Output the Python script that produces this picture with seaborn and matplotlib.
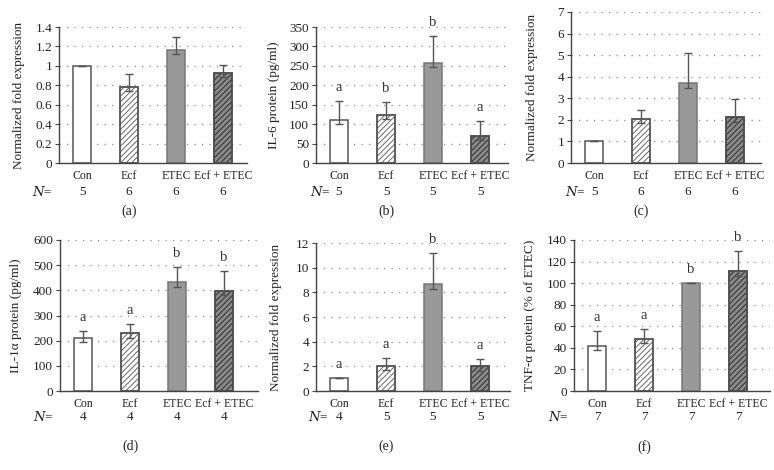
import matplotlib
matplotlib.use("Agg")
import matplotlib.pyplot as plt
import matplotlib.ticker as mticker
from matplotlib.patches import Rectangle
import seaborn as sns

sns.set_style("white")
plt.rcParams['font.family'] = ['Liberation Serif', 'DejaVu Serif']
plt.rcParams['hatch.linewidth'] = 0.7

groups = ['Con', 'Ecf', 'ETEC', 'Ecf + ETEC']

# (a)
a_mean = [1.0, 0.78, 1.16, 0.93]
a_err = [0, 0.14, 0.14, 0.08]
a_n = [5, 6, 6, 6]
# (b)
b_mean = [110, 124, 257, 70]
b_err = [50, 34, 70, 38]
b_n = [5, 5, 5, 5]
b_sig = ['a', 'b', 'b', 'a']
# (c)
c_mean = [1.0, 2.05, 3.7, 2.13]
c_err = [0, 0.42, 1.4, 0.82]
c_n = [5, 6, 6, 6]
# (d)
d_mean = [212, 230, 432, 398]
d_err = [28, 38, 60, 78]
d_n = [4, 4, 4, 4]
d_sig = ['a', 'a', 'b', 'b']
# (e)
e_mean = [1.05, 2.05, 8.65, 2.0]
e_err = [0, 0.65, 2.55, 0.6]
e_n = [4, 5, 5, 5]
e_sig = ['a', 'a', 'b', 'a']
# (f)
f_mean = [42, 48.5, 100, 111]
f_err = [14, 9, 0, 19]
f_n = [7, 7, 7, 7]
f_sig = ['a', 'a', 'b', 'b']

W, H = 774, 470

# bar styles: face, hatch, hatch colour
styles = [('white', '', '#555555'),
          ('white', '//////', '#666666'),
          ('#999999', '', '#777777'),
          ('#8a8a8a', '//////', '#2e2e2e')]
edge = '#555555'


def panel(rect, mean, err, n, ymax, ystep, ylabel, tag, sig=None,
          label_x=None, nlabel_x=None, offs=(8, 21, 36)):
    left, top, right, bottom = rect
    ax = fig.add_axes([left / W, 1 - bottom / H, (right - left) / W, (bottom - top) / H])
    sns.barplot(x=groups, y=mean, ax=ax, width=0.38, color='white',
                edgecolor=edge, linewidth=1.1, zorder=2)
    for p, (fc, hatch, hc) in zip(ax.patches, styles):
        p.set_facecolor(fc)
        if hatch:
            p.set_hatch(hatch)
            p.set_edgecolor(hc)
            ax.add_patch(Rectangle(p.get_xy(), p.get_width(), p.get_height(),
                                   fill=False, edgecolor=edge, linewidth=1.1, zorder=3))
        elif fc != 'white':
            p.set_edgecolor(hc)
    # upper error bars, dipping slightly into the bar
    dip = [0.03 * ymax if e > 0 else 0 for e in err]
    ax.errorbar(range(4), mean, yerr=[dip, err], fmt='none', ecolor='#555555',
                elinewidth=1, capsize=3.2, capthick=1, zorder=4)
    if sig:
        for i, s in enumerate(sig):
            ax.annotate(s, xy=(i, mean[i] + err[i]), xytext=(0, 7),
                        textcoords='offset points', ha='center', va='baseline',
                        fontsize=10.5, color='#333333')

    span = 47.0
    x0 = -23 / span
    ax.set_xlim(x0, x0 + (right - left) / span)
    ax.set_ylim(0, ymax)
    ax.yaxis.set_major_locator(mticker.MultipleLocator(ystep))
    ax.yaxis.set_major_formatter(mticker.FormatStrFormatter('%g'))
    ax.yaxis.grid(True, linestyle=(0, (1, 5)), color='#8c8c8c', linewidth=0.9)
    ax.set_axisbelow(True)
    sns.despine(ax=ax)
    for s in ['left', 'bottom']:
        ax.spines[s].set_color('#444444')
        ax.spines[s].set_linewidth(1)
    ax.tick_params(axis='y', left=True, length=3, width=0.8, color='#444444',
                   labelsize=9.5, pad=2, labelcolor='#222222')
    ax.tick_params(axis='x', bottom=False, labelsize=8.5, pad=offs[0],
                   labelcolor='#222222')
    ax.set_xlabel('')
    ax.set_ylabel(ylabel, fontsize=9.5, color='#222222')
    ax.yaxis.set_label_coords((label_x - left) / (right - left), 0.5)

    for i, v in enumerate(n):
        ax.annotate(str(v), xy=(i, 0), xycoords=('data', 'axes fraction'),
                    xytext=(0, -offs[1]), textcoords='offset points',
                    ha='center', va='center', fontsize=9.5, color='#222222')
    fig.text(nlabel_x / W, 1 - (bottom + offs[1] / 0.72) / H, r'$N$=',
             ha='center', va='center', fontsize=9.5, color='#222222',
             math_fontfamily='dejavuserif')
    ax.annotate(tag, xy=(1, 0), xycoords=('data', 'axes fraction'),
                xytext=(0, -offs[2]), textcoords='offset points',
                ha='center', va='center', fontsize=10, color='#222222')
    return ax


fig = plt.figure(figsize=(W / 100, H / 100), dpi=100)

top_offs = (1.5, 21, 35)
bot_offs = (1.5, 19, 40)
panel((59, 27, 247, 163), a_mean, a_err, a_n, 1.4, 0.2,
      'Normalized fold expression', '(a)', label_x=25, nlabel_x=42, offs=top_offs)
panel((316, 27, 508, 163), b_mean, b_err, b_n, 350, 50,
      'IL-6 protein (pg/ml)', '(b)', sig=b_sig, label_x=280, nlabel_x=320, offs=top_offs)
panel((571, 12, 761, 163), c_mean, c_err, c_n, 7, 1,
      'Normalized fold expression', '(c)', label_x=538, nlabel_x=575, offs=top_offs)
panel((60, 240, 258, 391), d_mean, d_err, d_n, 600, 100,
      'IL-1α protein (pg/ml)', '(d)', sig=d_sig, label_x=22, nlabel_x=43, offs=bot_offs)
panel((316, 243, 510, 391), e_mean, e_err, e_n, 12, 2,
      'Normalized fold expression', '(e)', sig=e_sig, label_x=282, nlabel_x=318, offs=bot_offs)
panel((574, 240, 770, 391), f_mean, f_err, f_n, 140, 20,
      'TNF-α protein (% of ETEC)', '(f)', sig=f_sig, label_x=536, nlabel_x=558, offs=bot_offs)

fig.savefig('out.png', dpi=100)
